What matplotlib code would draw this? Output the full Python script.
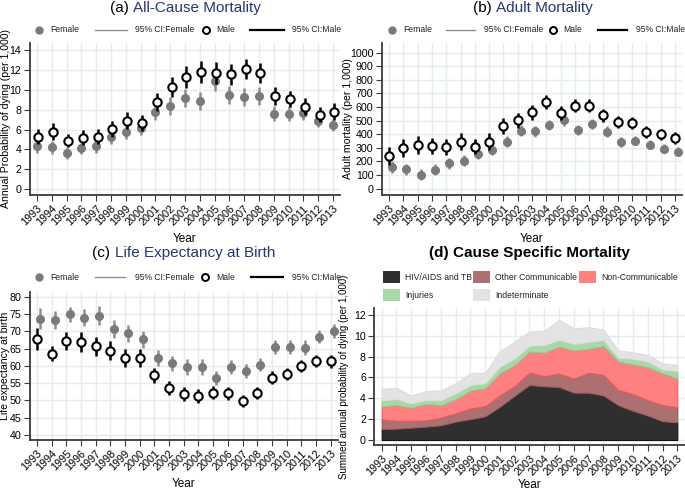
"""Four-panel mortality figure: all-cause, adult, life expectancy, cause-specific."""
import matplotlib
matplotlib.use("Agg")
import matplotlib.pyplot as plt
import numpy as np
from matplotlib.lines import Line2D
from matplotlib.patches import Rectangle

plt.rcParams["font.family"] = ["Liberation Sans", "DejaVu Sans"]

YEARS = np.arange(1993, 2014)

# (a) all-cause mortality, per 1,000
ALL_F = [4.3, 4.2, 3.6, 4.1, 4.3, 5.3, 5.8, 6.2, 7.8, 8.4, 9.2, 8.9, 10.9, 9.5, 9.3, 9.4, 7.6, 7.6, 7.7, 6.9, 6.5]
ALL_F_CI = [0.65, 0.65, 0.6, 0.6, 0.65, 0.7, 0.75, 0.75, 0.85, 0.9, 0.95, 0.95, 0.95, 0.95, 0.9, 0.9, 0.75, 0.75, 0.7, 0.65, 0.6]
ALL_M = [5.3, 5.8, 4.9, 5.2, 5.3, 6.1, 6.9, 6.7, 8.8, 10.3, 11.3, 11.8, 11.7, 11.6, 12.1, 11.7, 9.4, 9.1, 8.3, 7.5, 7.8]
ALL_M_CI = [0.8, 0.85, 0.7, 0.75, 0.75, 0.8, 0.85, 0.8, 0.95, 1.05, 1.1, 1.1, 1.1, 1.05, 1.0, 1.0, 0.9, 0.85, 0.85, 0.75, 0.85]

# (b) adult mortality, per 1,000
AD_F = [161, 142, 101, 140, 186, 205, 255, 287, 345, 424, 422, 467, 501, 431, 477, 419, 342, 352, 323, 294, 272]
AD_F_CI = [45, 40, 40, 40, 40, 40, 40, 40, 40, 40, 40, 40, 38, 38, 38, 38, 35, 35, 35, 33, 32]
AD_M = [241, 299, 318, 313, 306, 345, 306, 345, 460, 504, 560, 634, 554, 610, 610, 540, 487, 482, 417, 398, 373]
AD_M_CI = [65, 65, 65, 60, 60, 60, 55, 60, 57, 55, 55, 52, 50, 50, 50, 47, 45, 45, 45, 43, 42]

# (c) life expectancy at birth, years
LE_F = [73.7, 73.3, 74.9, 74.0, 74.6, 70.7, 69.4, 67.7, 62.3, 60.8, 59.7, 59.7, 56.5, 59.7, 58.5, 60.4, 65.4, 65.4, 65.3, 68.5, 70.2]
LE_F_CI = [3.0, 2.5, 2.3, 2.5, 2.8, 2.6, 2.6, 2.5, 2.2, 2.2, 2.2, 2.3, 2.0, 2.1, 2.1, 2.0, 2.0, 2.0, 2.1, 2.0, 2.0]
LE_M = [67.8, 63.6, 67.2, 66.9, 65.7, 64.4, 62.3, 62.3, 57.3, 53.6, 51.8, 51.4, 52.3, 52.1, 49.9, 52.1, 56.6, 57.6, 59.9, 61.4, 61.3]
LE_M_CI = [3.2, 2.3, 2.6, 3.0, 2.7, 2.7, 2.6, 2.5, 2.2, 2.0, 2.0, 2.0, 1.9, 1.9, 1.8, 1.8, 1.8, 1.8, 1.8, 1.8, 1.8]

# (d) cause specific mortality, per 1,000 (stacked)
HIV_TB = [1.06, 1.09, 1.18, 1.28, 1.41, 1.76, 2.0, 2.27, 3.2, 4.26, 5.28, 5.15, 5.09, 4.54, 4.54, 4.28, 3.35, 2.8, 2.35, 1.8, 1.7]
OTHER_COMM = [0.94, 0.77, 0.68, 0.61, 0.77, 0.80, 1.04, 0.99, 1.12, 0.94, 1.22, 0.99, 1.31, 1.38, 1.92, 1.99, 1.48, 1.62, 1.49, 1.56, 1.47]
NON_COMM = [1.20, 1.50, 1.24, 1.57, 1.15, 1.34, 1.70, 1.70, 2.08, 2.00, 1.98, 2.24, 2.56, 2.68, 2.28, 2.75, 2.69, 2.84, 3.14, 3.04, 2.75]
INJURIES = [0.58, 0.58, 0.42, 0.38, 0.48, 0.58, 0.54, 0.48, 0.64, 0.64, 0.58, 0.71, 0.67, 0.62, 0.67, 0.58, 0.38, 0.54, 0.54, 0.38, 0.70]
INDETERMINATE = [1.12, 1.08, 0.74, 0.86, 0.96, 0.96, 1.12, 1.02, 1.50, 1.60, 1.37, 1.41, 1.89, 1.50, 1.41, 1.00, 0.70, 0.62, 0.64, 0.58, 0.58]
CAUSES = ["HIV/AIDS and TB", "Other Communicable", "Non-Communicable", "Injuries", "Indeterminate"]
CI_LABELS = ["Female", "95% CI:Female", "Male", "95% CI:Male"]

GRID = "#e4ecef"
SPINE = "#3a3a3a"
NAVY = "#24386e"
F_COL = "#7a7a7a"
F_CI = "#8e8e8e"
LEG_FS = 6.2
W, H = 685, 490


def fx(px):
    return px / W


def fy(py):
    return 1 - py / H


def px_axes(fig, left, right, top, bottom):
    return fig.add_axes([fx(left), fy(bottom), (right - left) / W, (bottom - top) / H])


def style(ax, ylabel, yticks, ylim, ylab_x, ylab_size=7.6):
    ax.set_xlim(1992.5, 2013.5)
    ax.set_ylim(*ylim)
    ax.set_xticks(YEARS)
    ax.set_xticklabels([str(y) for y in YEARS], rotation=45, ha="right",
                       rotation_mode="anchor", fontsize=7.8)
    ax.set_yticks(yticks)
    ax.tick_params(axis="y", labelsize=7.7, length=4, color=SPINE, pad=2)
    ax.tick_params(axis="x", length=4, color=SPINE, pad=2)
    ax.grid(True, color=GRID, linewidth=1.0)
    ax.set_axisbelow(True)
    for s in ("top", "right"):
        ax.spines[s].set_visible(False)
    for s in ("left", "bottom"):
        ax.spines[s].set_color(SPINE)
        ax.spines[s].set_linewidth(1.3)
    ax.set_ylabel(ylabel, fontsize=ylab_size)
    ax.yaxis.set_label_coords(ylab_x, 0.5)
    ax.set_xlabel("Year", fontsize=8.5)


def title2(fig, ax, tag, name, y_px, color=NAVY, bold=False):
    r = fig.canvas.get_renderer()
    pos = ax.get_position()
    cx = pos.x0 + pos.width / 2
    wt = "bold" if bold else "normal"
    full = fig.text(0, 0, tag + name, fontsize=11, weight=wt)
    w = full.get_window_extent(r).width / (fig.dpi * fig.get_figwidth())
    full.remove()
    t1 = fig.text(cx - w / 2, fy(y_px), tag, fontsize=11, va="center", color="black", weight=wt)
    ext = t1.get_window_extent(r)
    fig.text(ext.x1 / (fig.dpi * fig.get_figwidth()), fy(y_px), name, fontsize=11,
             va="center", color=color, weight=wt)


def ci_legend(fig, x0, y, offs):
    # pixel offsets from x0: female dot, female text, CI line start/end, CI text,
    # male dot, male text, male CI line start/end, male CI text
    d1, t1, l1a, l1b, t2, d2, t3, l2a, l2b, t4 = offs
    fig.add_artist(Line2D([fx(x0 + d1)], [fy(y)], marker="o", ls="none", color=F_COL,
                          markersize=5))
    fig.add_artist(Line2D([fx(x0 + l1a), fx(x0 + l1b)], [fy(y), fy(y)], color=F_CI, lw=1.0))
    fig.add_artist(Line2D([fx(x0 + d2)], [fy(y)], marker="o", ls="none", color="black",
                          markerfacecolor="white", markeredgewidth=1.4, markersize=5))
    fig.add_artist(Line2D([fx(x0 + l2a), fx(x0 + l2b)], [fy(y), fy(y)], color="black", lw=1.6))
    for t, lab in zip((t1, t2, t3, t4), CI_LABELS):
        fig.text(fx(x0 + t), fy(y), lab, fontsize=LEG_FS, va="center", ha="left",
                 color="#222222")


def point_panel(ax, fem, fem_ci, mal, mal_ci, f_off, m_off):
    ax.errorbar(YEARS + f_off, fem, yerr=fem_ci, fmt="o", color=F_COL, ecolor=F_CI,
                elinewidth=1.8, markersize=5.5, capsize=0, zorder=3)
    ax.errorbar(YEARS + m_off, mal, yerr=mal_ci, fmt="o", color="black", ecolor="black",
                elinewidth=1.8, markersize=6, markerfacecolor="white",
                markeredgewidth=1.5, capsize=0, zorder=4)


def main():
    fig = plt.figure(figsize=(W / 100, H / 100), dpi=100)

    ax_a = px_axes(fig, 29.6, 340.4, 43, 195)
    point_panel(ax_a, ALL_F, ALL_F_CI, ALL_M, ALL_M_CI, 0.0, 0.1)
    style(ax_a, "Annual Probability of dying (per 1,000)", np.arange(0, 15, 2),
          (-0.6, 14.75), -0.061)

    ax_b = px_axes(fig, 381.9, 682.1, 43, 195)
    point_panel(ax_b, AD_F, AD_F_CI, AD_M, AD_M_CI, 0.22, 0.0)
    style(ax_b, "Adult mortality (per 1,000)", np.arange(0, 1001, 100),
          (-47, 1070), -0.095)

    ax_c = px_axes(fig, 29.6, 338.0, 291.7, 440)
    point_panel(ax_c, LE_F, LE_F_CI, LE_M, LE_M_CI, 0.22, 0.0)
    style(ax_c, "Life expectancy at birth", np.arange(40, 81, 5), (38.55, 81.5), -0.062)

    ax_d = px_axes(fig, 374.3, 684.7, 308, 445)
    colors = ["#2f2f2f", "#ad7072", "#ff8080", "#a8d8a8", "#e3e3e3"]
    edges = ["#111111", "#9a5a5e", "#ff5a5a", "#8ccc8c", "#dddddd"]
    polys = ax_d.stackplot(YEARS, HIV_TB, OTHER_COMM, NON_COMM, INJURIES, INDETERMINATE,
                           colors=colors, zorder=2)
    for p, e in zip(polys, edges):
        p.set_edgecolor(e)
        p.set_linewidth(0.8)
    style(ax_d, "Summed annual probability of dying (per 1,000)", np.arange(0, 13, 2),
          (-0.48, 12.67), -0.082, ylab_size=7.0)
    ax_d.xaxis.set_label_coords(0.5, -0.25)

    # cause legend, row-major: 3 on the first row, 2 on the second
    col_x = [383, 473, 579]
    row_y = [277, 295]
    for i, (lab, c) in enumerate(zip(CAUSES, colors)):
        r, k = divmod(i, 3)
        x, y = col_x[k], row_y[r]
        fig.add_artist(Rectangle((fx(x), fy(y + 6)), 17 / W, 12 / H, facecolor=c,
                                 edgecolor="none", transform=fig.transFigure))
        fig.text(fx(x + 22), fy(y), lab, fontsize=LEG_FS, va="center", ha="left",
                 color="#222222")

    ci_legend(fig, 29.6, 30, (9.5, 20.5, 65, 97, 105.5, 176.5, 186.5, 220, 254, 262.5))
    ci_legend(fig, 381.9, 30, (10, 21, 64, 93, 102, 171, 181, 216, 245, 254))
    ci_legend(fig, 29.6, 277, (9.5, 21, 65, 95, 105.5, 175.5, 186.5, 221, 253, 262.5))

    title2(fig, ax_a, "(a) ", "All-Cause Mortality", 8)
    title2(fig, ax_b, "(b) ", "Adult Mortality", 8)
    title2(fig, ax_c, "(c) ", "Life Expectancy at Birth", 253)
    title2(fig, ax_d, "(d) ", "Cause Specific Mortality", 253, color="black", bold=True)

    fig.savefig("out.png", dpi=100)


if __name__ == "__main__":
    main()
